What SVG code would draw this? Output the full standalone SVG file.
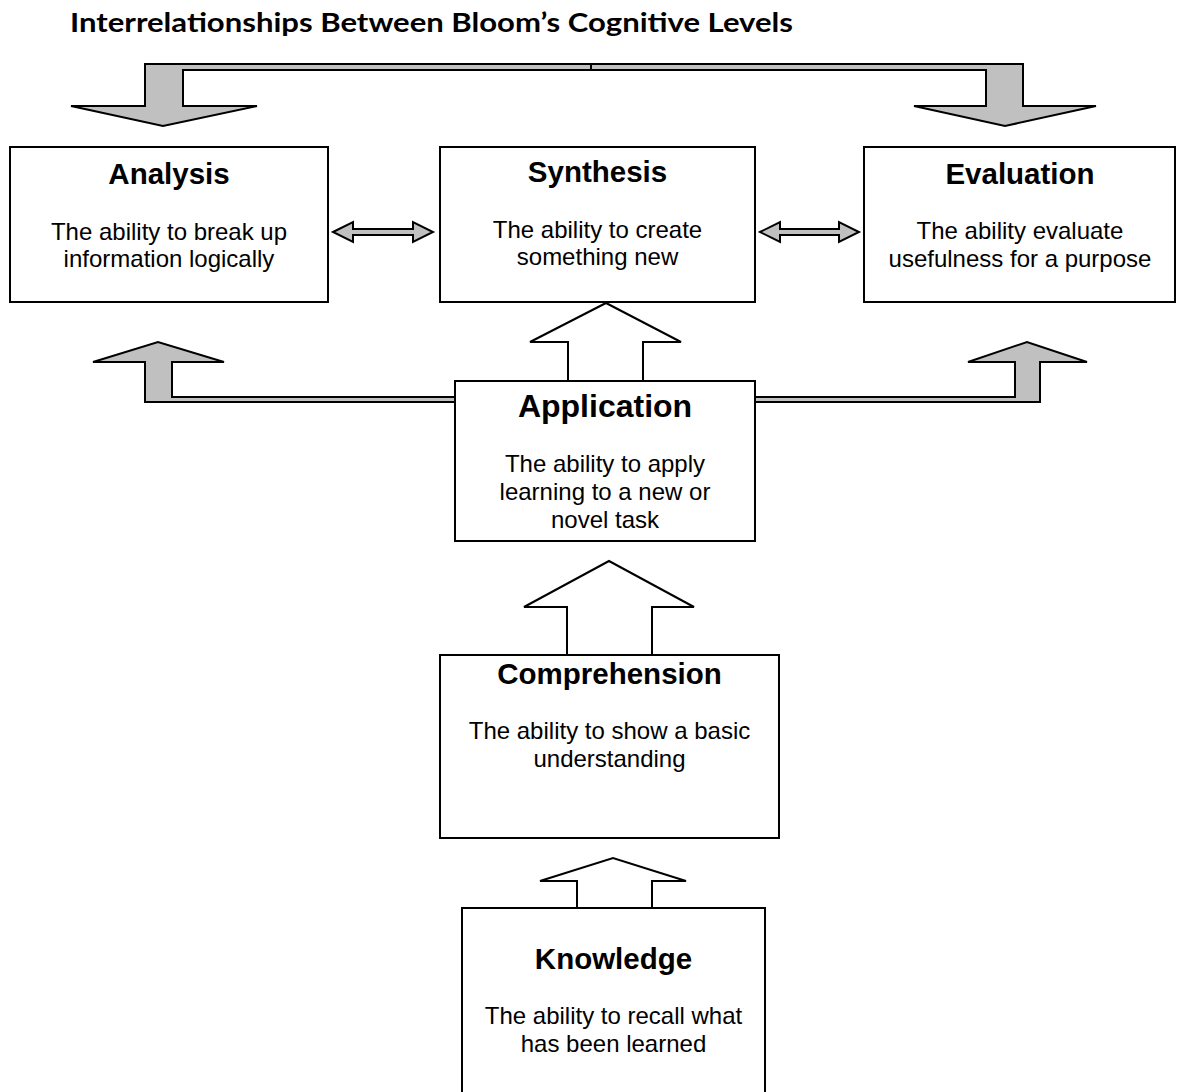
<svg xmlns="http://www.w3.org/2000/svg" width="1183" height="1092" viewBox="0 0 1183 1092">
<style>
.box{fill:#fff;stroke:#000;stroke-width:2}
.ga{fill:#c0c0c0;stroke:#000;stroke-width:2;stroke-linejoin:miter}
.wa{fill:#fff;stroke:#000;stroke-width:2}
.h{font-family:"Liberation Sans",Arial,sans-serif;font-weight:bold;font-size:29.5px;text-anchor:middle;fill:#000}
.b{font-family:"Liberation Sans",Arial,sans-serif;font-size:24px;text-anchor:middle;fill:#000}
.t{font-family:Lato,"Open Sans","Liberation Sans",sans-serif;font-weight:bold;font-size:26px;fill:#000}
</style>
<rect width="1183" height="1092" fill="#fff"/>
<text class="t" x="70" y="32" textLength="723" lengthAdjust="spacingAndGlyphs">Interrelationships Between Bloom’s Cognitive Levels</text>
<g id="connectors">
<polygon class="ga" points="591,64 145,64 145,106 71,106 163,126 257,106 183,106 183,70 591,70"/>
<polygon class="ga" points="591,64 1023,64 1023,106 1096,106 1005,126 914,106 986,106 986,70 591,70"/>
<polygon class="ga" points="456,397 172,397 172,362 224,362 158,342 93,362 145,362 145,402 456,402"/>
<polygon class="ga" points="754,397 1015,397 1015,362 968,362 1027,342 1087,362 1040,362 1040,402 754,402"/>
<polygon class="ga" points="333,232 353,222 353,229 413,229 413,222 433,232 413,242 413,235 353,235 353,242"/>
<polygon class="ga" points="760,232 780,222 780,229 839,229 839,222 859,232 839,242 839,235 780,235 780,242"/>
<polygon class="wa" points="568,382 568,342 530,342 606,303 681,342 643,342 643,382"/>
<polygon class="wa" points="567,655 567,607 524,607 609,561 694,607 652,607 652,655"/>
<polygon class="wa" points="577,908 577,881 540,881 613,858 686,881 652,881 652,908"/>
</g>
<g id="analysis">
<rect class="box" x="10" y="147" width="318" height="155"/>
<text class="h" x="169" y="184">Analysis</text>
<text class="b" x="169" y="240">The ability to break up</text>
<text class="b" x="169" y="267">information logically</text>
</g>
<g id="synthesis">
<rect class="box" x="440" y="147" width="315" height="155"/>
<text class="h" x="597.5" y="182">Synthesis</text>
<text class="b" x="597.5" y="238">The ability to create</text>
<text class="b" x="597.5" y="265">something new</text>
</g>
<g id="evaluation">
<rect class="box" x="864" y="147" width="311" height="155"/>
<text class="h" x="1020" y="184">Evaluation</text>
<text class="b" x="1020" y="239">The ability evaluate</text>
<text class="b" x="1020" y="267">usefulness for a purpose</text>
</g>
<g id="application">
<rect class="box" x="455" y="381" width="300" height="160"/>
<text class="h" x="605" y="417" style="font-size:32px">Application</text>
<text class="b" x="605" y="472">The ability to apply</text>
<text class="b" x="605" y="500">learning to a new or</text>
<text class="b" x="605" y="528">novel task</text>
</g>
<g id="comprehension">
<rect class="box" x="440" y="655" width="339" height="183"/>
<text class="h" x="609.5" y="684">Comprehension</text>
<text class="b" x="609.5" y="739">The ability to show a basic</text>
<text class="b" x="609.5" y="767">understanding</text>
</g>
<g id="knowledge">
<rect class="box" x="462" y="908" width="303" height="200"/>
<text class="h" x="613.5" y="969">Knowledge</text>
<text class="b" x="613.5" y="1024">The ability to recall what</text>
<text class="b" x="613.5" y="1052">has been learned</text>
</g>
</svg>
